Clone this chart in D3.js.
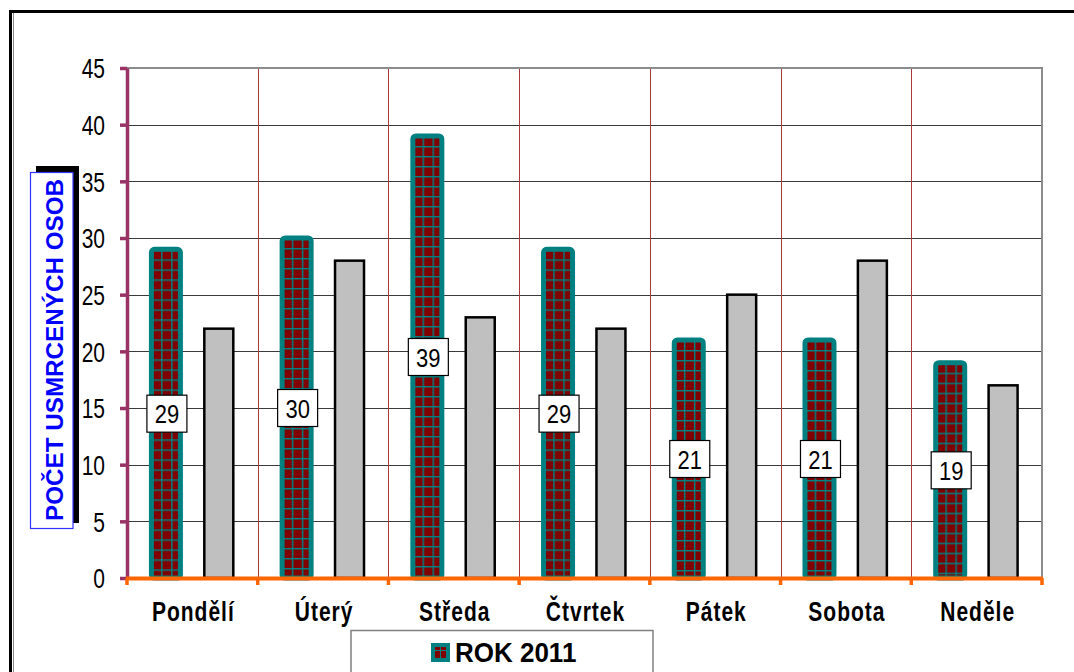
<!DOCTYPE html>
<html>
<head>
<meta charset="utf-8">
<script src="https://cdn.jsdelivr.net/npm/d3@7"></script>
<style>
  body { margin: 0; background: #fff; }
  svg { display: block; }
  text { font-family: "Liberation Sans", Arial, sans-serif; }
</style>
</head>
<body>
<svg id="chart" width="1074" height="672"></svg>
<script>
// Days of the week and fatalities per day
const categories = ["Pondělí", "Úterý", "Středa", "Čtvrtek", "Pátek", "Sobota", "Neděle"];
const rok2011 = [29, 30, 39, 29, 21, 21, 19];
const secondSeries = [22, 28, 23, 22, 25, 28, 17];
const yTicks = [0, 5, 10, 15, 20, 25, 30, 35, 40, 45];
const legendLabel = "ROK 2011";
const yTitle = "POČET USMRCENÝCH OSOB";

const svg = d3.select("#chart");
const plot = { left: 127, right: 1042, top: 68, bottom: 578 };

const y = d3.scaleLinear().domain([0, 45]).range([plot.bottom, plot.top]);
const x = d3.scaleBand().domain(categories).range([plot.left, plot.right]);
const xs = d3.scaleBand().domain([0, 1]).range([0, x.bandwidth()])
  .paddingInner(0.452).paddingOuter(0.4615);

// Outer chart frame
svg.append("line").attr("x1", 9).attr("x2", 1074).attr("y1", 11.5).attr("y2", 11.5)
  .attr("stroke", "#000").attr("stroke-width", 3);
svg.append("line").attr("x1", 10.5).attr("x2", 10.5).attr("y1", 10).attr("y2", 672)
  .attr("stroke", "#000").attr("stroke-width", 3);
svg.append("line").attr("x1", 13.5).attr("x2", 13.5).attr("y1", 13).attr("y2", 672)
  .attr("stroke", "#8a8a8a").attr("stroke-width", 1);

// Horizontal gridlines
svg.append("g").selectAll("line")
  .data(yTicks.filter(t => t > 0 && t < 45))
  .join("line")
  .attr("x1", plot.left).attr("x2", plot.right)
  .attr("y1", d => Math.round(y(d)) + 0.5).attr("y2", d => Math.round(y(d)) + 0.5)
  .attr("stroke", "#3a3a3a").attr("stroke-width", 1);

// Vertical separators between days
svg.append("g").selectAll("line")
  .data(categories.slice(1))
  .join("line")
  .attr("x1", d => Math.round(x(d)) + 0.5).attr("x2", d => Math.round(x(d)) + 0.5)
  .attr("y1", plot.top).attr("y2", plot.bottom)
  .attr("stroke", "#a83a3a").attr("stroke-width", 1);

// Plot area border (top and right)
svg.append("path")
  .attr("d", `M${plot.left},${plot.top}H${plot.right}V${plot.bottom}`)
  .attr("fill", "none").attr("stroke", "#8c8c8c").attr("stroke-width", 2);

// Checked fill patterns, one per bar so the grid starts at each bar's edge
const defs = svg.append("defs");
const bw = xs.bandwidth();
rok2011.forEach((v, i) => {
  const bx = x(categories[i]) + xs(0);
  const p = defs.append("pattern")
    .attr("id", "grid" + i)
    .attr("patternUnits", "userSpaceOnUse")
    .attr("x", bx + bw / 3).attr("y", y(v) + 10)
    .attr("width", 10).attr("height", 10);
  p.append("rect").attr("width", 10).attr("height", 10).attr("fill", "#800000");
  p.append("path").attr("d", "M0.75,0V10M0,0.75H10")
    .attr("stroke", "#008080").attr("stroke-width", 1.5);
});

// Series 1 bars
svg.append("g").selectAll("rect")
  .data(rok2011)
  .join("rect")
  .attr("x", (d, i) => x(categories[i]) + xs(0))
  .attr("y", d => y(d))
  .attr("width", bw)
  .attr("height", d => y(0) - y(d))
  .attr("rx", 3)
  .attr("fill", (d, i) => `url(#grid${i})`)
  .attr("stroke", "#008080").attr("stroke-width", 5);

// Series 2 bars
svg.append("g").selectAll("rect")
  .data(secondSeries)
  .join("rect")
  .attr("x", (d, i) => x(categories[i]) + xs(1))
  .attr("y", d => y(d))
  .attr("width", bw)
  .attr("height", d => y(0) - y(d))
  .attr("fill", "#c0c0c0")
  .attr("stroke", "#000").attr("stroke-width", 2.5);

// Value labels for series 1
const lab = svg.append("g").selectAll("g")
  .data(rok2011)
  .join("g")
  .attr("transform", (d, i) => `translate(${x(categories[i]) + xs(0) + bw / 2 + 1},${y(d / 2)})`);
lab.append("rect")
  .attr("x", -20).attr("y", -18.5).attr("width", 40).attr("height", 37)
  .attr("fill", "#fff").attr("stroke", "#000").attr("stroke-width", 1.2);
lab.append("text")
  .attr("text-anchor", "middle")
  .attr("transform", "scale(1,1.2)")
  .attr("dy", "0.36em")
  .attr("font-size", 22)
  .attr("fill", "#000")
  .text(d => d);

// Y axis
const yAxis = svg.append("g")
  .attr("transform", `translate(${plot.left},0)`)
  .call(d3.axisLeft(y).tickValues(yTicks).tickSize(7).tickSizeOuter(0).tickPadding(15));
yAxis.select(".domain").attr("stroke", "#993366").attr("stroke-width", 3.5);
yAxis.selectAll(".tick line").attr("stroke", "#993366").attr("stroke-width", 3.5);
yAxis.selectAll(".tick text")
  .attr("font-size", 21)
  .attr("font-family", "\"Liberation Sans\", Arial, sans-serif")
  .attr("fill", "#000")
  .attr("dy", "0.36em")
  .attr("transform", "scale(1,1.28)");

// X axis line with ticks at day boundaries
const bounds = categories.map(c => x(c)).concat([plot.right]);
svg.append("line")
  .attr("x1", plot.left - 1).attr("x2", plot.right + 1)
  .attr("y1", plot.bottom + 0.5).attr("y2", plot.bottom + 0.5)
  .attr("stroke", "#ff6600").attr("stroke-width", 4);
svg.append("g").selectAll("line")
  .data(bounds)
  .join("line")
  .attr("x1", d => d).attr("x2", d => d)
  .attr("y1", plot.bottom).attr("y2", plot.bottom + 7)
  .attr("stroke", "#ff6600").attr("stroke-width", 3.5);

// Day labels
const xAxis = svg.append("g")
  .attr("transform", `translate(0,${plot.bottom})`)
  .call(d3.axisBottom(x).tickSize(0).tickPadding(0));
xAxis.select(".domain").remove();
xAxis.selectAll(".tick text")
  .attr("y", 0).attr("dy", 0)
  .attr("transform", "translate(1,43) scale(1,1.3)")
  .attr("font-size", 21)
  .attr("font-weight", "bold")
  .attr("letter-spacing", "1px")
  .attr("font-family", "\"Liberation Sans\", Arial, sans-serif")
  .attr("fill", "#000");

// Y axis title with offset shadow
svg.append("rect").attr("x", 36).attr("y", 166).attr("width", 43).attr("height", 357)
  .attr("fill", "#000");
svg.append("rect").attr("x", 30.5).attr("y", 172.5).attr("width", 42.5).attr("height", 356)
  .attr("fill", "#fff").attr("stroke", "#3333ff").attr("stroke-width", 1.2);
svg.append("text")
  .attr("transform", "translate(62.5,350) rotate(-90)")
  .attr("text-anchor", "middle")
  .attr("font-size", 24)
  .attr("font-weight", "bold")
  .attr("fill", "#0000ff")
  .attr("textLength", 342)
  .attr("lengthAdjust", "spacingAndGlyphs")
  .text(yTitle);

// Legend
svg.append("rect").attr("x", 351).attr("y", 630.5).attr("width", 302).attr("height", 60)
  .attr("fill", "#fff").attr("stroke", "#808080").attr("stroke-width", 1.5);
svg.append("rect").attr("x", 431).attr("y", 643).attr("width", 19).attr("height", 19)
  .attr("fill", "#008080");
svg.append("rect").attr("x", 435).attr("y", 647).attr("width", 11).attr("height", 11)
  .attr("fill", "#800000");
svg.append("path").attr("d", "M440.5,647V658M435,650.5H446")
  .attr("stroke", "#008080").attr("stroke-width", 1);
svg.append("text")
  .attr("transform", "translate(455,662) scale(1,1.08)")
  .attr("font-size", 26)
  .attr("font-weight", "bold")
  .attr("fill", "#000")
  .text(legendLabel);
</script>
</body>
</html>
